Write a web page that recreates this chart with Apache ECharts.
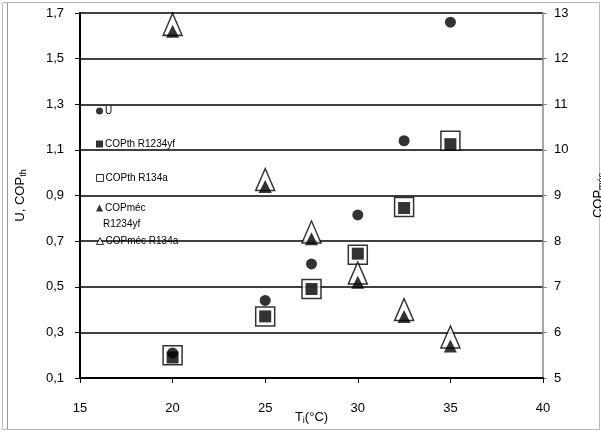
<!DOCTYPE html>
<html>
<head>
<meta charset="utf-8">
<script src="https://cdn.jsdelivr.net/npm/echarts@6/dist/echarts.min.js"></script>
<style>
html,body{margin:0;padding:0;background:#fff;}
#c{width:601px;height:431px;}
</style>
</head>
<body>
<div id="c"></div>
<script>
const tempsX = [20, 25, 27.5, 30, 32.5, 35];
const uVals = [0.21, 0.44, 0.6, 0.815, 1.14, 1.66];
const copThYf = [0.19, 0.37, 0.49, 0.645, 0.845, 1.125];
const copTh134a = [0.2, 0.37, 0.49, 0.64, 0.85, 1.14];
const copMecYf = [12.6, 9.2, 8.05, 7.1, 6.35, 5.7];
const copMec134a = [12.75, 9.35, 8.2, 7.3, 6.5, 5.9];
const seriesNames = ['U', 'COPth R1234yf', 'COPth R134a', 'COPméc R1234yf', 'COPméc R134a'];

function pairs(xs, ys) { return xs.map((x, i) => [x, ys[i]]); }
const FONT = 'Liberation Sans';
const comma = v => (Math.round(v * 10) / 10).toFixed(1).replace('.', ',');

const chart = echarts.init(document.getElementById('c'), null, {renderer: 'canvas'});

function mkLegend(name, top, fmt, icon, itemStyle) {
  return {
    show: true, selectedMode: false, orient: 'vertical', left: 96, top: top, padding: 0,
    itemWidth: 7, itemHeight: 7, itemGap: 0,
    textStyle: {fontFamily: FONT, fontSize: 10, color: '#000', padding: [0, 0, 0, -3]},
    formatter: fmt ? () => fmt : undefined,
    data: [{name: name, icon: icon, itemStyle: itemStyle}]
  };
}

const option = {
  backgroundColor: '#fff',
  animation: false,
  grid: {left: 80, right: 58, top: 13, bottom: 53, containLabel: false, outerBoundsMode: 'none'},
  xAxis: {
    type: 'value', min: 15, max: 40, interval: 5,
    name: '{a|T}{s|i}{a|(°C)}', nameLocation: 'middle', nameGap: 31, nameMoveOverlap: false,
    nameTextStyle: {rich: {a: {fontFamily: FONT, fontSize: 13, color: '#000'}, s: {fontFamily: FONT, fontSize: 9, color: '#000', padding: [7, 0, 0, 0]}}},
    axisLine: {show: true, onZero: false, lineStyle: {color: '#000', width: 2}},
    axisTick: {show: true, inside: false, length: 5, lineStyle: {color: '#000', width: 1}},
    axisLabel: {fontFamily: FONT, fontSize: 13, color: '#000', margin: 24},
    splitLine: {show: false}
  },
  yAxis: [{
    type: 'value', min: 0.1, max: 1.7, interval: 0.2, position: 'left',
    name: '{a|U, COP}{s|th}', nameLocation: 'middle', nameGap: 52, nameRotate: 90, nameMoveOverlap: false,
    nameTextStyle: {rich: {a: {fontFamily: FONT, fontSize: 13, color: '#000'}, s: {fontFamily: FONT, fontSize: 9, color: '#000', padding: [7, 0, 0, 0]}}},
    axisLine: {show: true, onZero: false, lineStyle: {color: '#000', width: 2}},
    axisTick: {show: true, length: 5, lineStyle: {color: '#000', width: 1}},
    axisLabel: {fontFamily: FONT, fontSize: 13, color: '#000', margin: 16, formatter: comma},
    splitLine: {show: true, lineStyle: {color: '#000', width: 1.5}}
  }, {
    type: 'value', min: 5, max: 13, interval: 1, position: 'right',
    name: '{a|COP}{s|méc}', nameLocation: 'middle', nameGap: 47, nameRotate: 90, nameMoveOverlap: false,
    nameTextStyle: {rich: {a: {fontFamily: FONT, fontSize: 13, color: '#000'}, s: {fontFamily: FONT, fontSize: 9, color: '#000', padding: [7, 0, 0, 0]}}},
    axisLine: {show: true, onZero: false, lineStyle: {color: '#888', width: 1.5}},
    axisTick: {show: true, length: 4, lineStyle: {color: '#888', width: 1}},
    axisLabel: {fontFamily: FONT, fontSize: 13, color: '#000', margin: 11},
    splitLine: {show: false}
  }],
  legend: [
    mkLegend(seriesNames[0], 106, null, 'circle', {color: '#000', borderWidth: 0}),
    mkLegend(seriesNames[1], 139, null, 'rect', {color: '#000', borderWidth: 0}),
    mkLegend(seriesNames[2], 173, null, 'rect', {color: '#fff', borderColor: '#000', borderWidth: 1}),
    mkLegend(seriesNames[3], 203, 'COPméc', 'triangle', {color: '#000', borderWidth: 0}),
    mkLegend(seriesNames[4], 236, null, 'triangle', {color: '#fff', borderColor: '#000', borderWidth: 1})
  ],
  graphic: [
    {type: 'rect', silent: true, z: -10, shape: {x: 2.5, y: 2.5, width: 597, height: 427}, style: {fill: 'none', stroke: '#bbb', lineWidth: 1}},
    {type: 'line', silent: true, z: -10, shape: {x1: 7.5, y1: 3, x2: 7.5, y2: 429}, style: {stroke: '#999', lineWidth: 1}},
    {type: 'text', silent: true, left: 103, top: 219, style: {text: 'R1234yf', fontFamily: FONT, fontSize: 10, fill: '#000'}}
  ],
  series: [
    {
      name: seriesNames[2], type: 'scatter', yAxisIndex: 0, z: 2,
      symbol: 'rect', symbolSize: 19,
      itemStyle: {color: '#fff', borderColor: '#000', borderWidth: 1.5},
      data: pairs(tempsX, copTh134a)
    },
    {
      name: seriesNames[4], type: 'scatter', yAxisIndex: 1, z: 2,
      symbol: 'triangle', symbolSize: [19, 22],
      itemStyle: {color: '#fff', borderColor: '#000', borderWidth: 1.5},
      data: pairs(tempsX, copMec134a)
    },
    {
      name: seriesNames[1], type: 'scatter', yAxisIndex: 0, z: 3,
      symbol: 'rect', symbolSize: 12,
      itemStyle: {color: '#000'},
      data: pairs(tempsX, copThYf)
    },
    {
      name: seriesNames[3], type: 'scatter', yAxisIndex: 1, z: 3,
      symbol: 'triangle', symbolSize: [13, 13],
      itemStyle: {color: '#000'},
      data: pairs(tempsX, copMecYf)
    },
    {
      name: seriesNames[0], type: 'scatter', yAxisIndex: 0, z: 4,
      symbol: 'circle', symbolSize: 11,
      itemStyle: {color: '#000'},
      data: pairs(tempsX, uVals)
    }
  ]
};
chart.setOption(option);
</script>
</body>
</html>
